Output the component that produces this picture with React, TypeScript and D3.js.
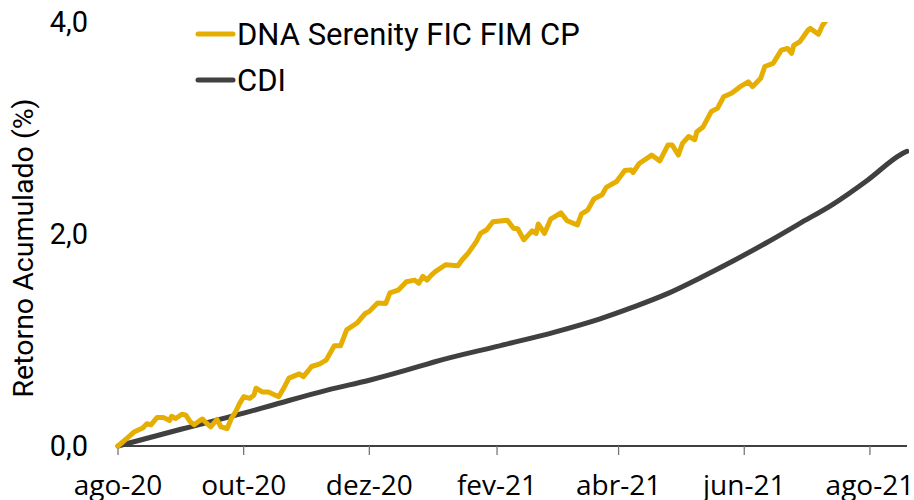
import React from "react";
import * as d3 from "d3";

const fundDates = [
  "2020-08-01","2020-08-07","2020-08-09","2020-08-13","2020-08-15","2020-08-17","2020-08-20","2020-08-23","2020-08-26","2020-08-27",
  "2020-08-29","2020-09-01","2020-09-03","2020-09-05","2020-09-07","2020-09-09","2020-09-11","2020-09-13","2020-09-15","2020-09-18",
  "2020-09-20","2020-09-22","2020-09-23","2020-09-25","2020-09-27","2020-09-29","2020-10-01","2020-10-04","2020-10-06","2020-10-07",
  "2020-10-10","2020-10-13","2020-10-18","2020-10-20","2020-10-23","2020-10-28","2020-10-30","2020-11-03","2020-11-07","2020-11-10",
  "2020-11-14","2020-11-17","2020-11-20","2020-11-25","2020-11-29","2020-12-01","2020-12-05","2020-12-09","2020-12-11","2020-12-15",
  "2020-12-19","2020-12-23","2020-12-25","2020-12-27","2020-12-29","2020-12-31","2021-01-02","2021-01-07","2021-01-13","2021-01-15",
  "2021-01-18","2021-01-22","2021-01-24","2021-01-27","2021-01-30","2021-02-06","2021-02-09","2021-02-11","2021-02-14","2021-02-18",
  "2021-02-20","2021-02-21","2021-02-24","2021-02-27","2021-03-04","2021-03-07","2021-03-12","2021-03-14","2021-03-17","2021-03-20",
  "2021-03-24","2021-03-26","2021-03-31","2021-04-04","2021-04-07","2021-04-08","2021-04-11","2021-04-16","2021-04-17","2021-04-21",
  "2021-04-25","2021-04-27","2021-04-30","2021-05-02","2021-05-05","2021-05-08","2021-05-09","2021-05-12","2021-05-16","2021-05-19",
  "2021-05-22","2021-05-26","2021-05-30","2021-06-03","2021-06-05","2021-06-09","2021-06-11","2021-06-15","2021-06-19","2021-06-22",
  "2021-06-24","2021-06-25","2021-06-28","2021-07-02","2021-07-03","2021-07-07","2021-07-09","2021-07-13"
];
const fundValues = [
  0.00,0.10,0.135,0.17,0.21,0.20,0.27,0.27,0.24,0.28,
  0.26,0.30,0.29,0.23,0.20,0.23,0.255,0.215,0.18,0.25,
  0.18,0.17,0.165,0.26,0.32,0.40,0.465,0.45,0.48,0.545,
  0.51,0.51,0.465,0.53,0.64,0.68,0.655,0.75,0.775,0.81,
  0.945,0.945,1.095,1.16,1.25,1.27,1.35,1.345,1.445,1.47,
  1.55,1.565,1.535,1.60,1.565,1.61,1.645,1.71,1.70,1.755,
  1.82,1.93,2.005,2.04,2.115,2.13,2.055,2.05,1.945,2.03,
  2.005,2.095,2.005,2.14,2.20,2.125,2.085,2.19,2.225,2.33,
  2.37,2.44,2.495,2.60,2.605,2.58,2.665,2.73,2.745,2.69,
  2.84,2.84,2.745,2.855,2.92,2.89,2.965,3.01,3.155,3.185,
  3.295,3.33,3.39,3.435,3.39,3.47,3.58,3.61,3.735,3.75,
  3.705,3.78,3.815,3.925,3.94,3.885,3.97,4.07
];

const cdiDates = [
  "2020-08-01","2020-09-01","2020-10-01","2020-10-14","2020-11-11","2020-12-01","2020-12-26","2021-01-01",
  "2021-02-01","2021-03-01","2021-03-23","2021-04-08","2021-04-25","2021-05-11","2021-05-27","2021-06-12",
  "2021-06-28","2021-07-14","2021-07-31","2021-08-16","2021-08-19"
];
const cdiValues = [
  0.00,0.16,0.31,0.38,0.53,0.62,0.755,0.79,
  0.94,1.075,1.20,1.31,1.44,1.59,1.75,1.92,
  2.10,2.28,2.51,2.75,2.78
];

const yTicks = [0, 2, 4];
const xTickDates = ["2020-08-01","2020-10-01","2020-12-01","2021-02-01","2021-04-01","2021-06-01","2021-08-01"];
const xTickLabels = ["ago-20","out-20","dez-20","fev-21","abr-21","jun-21","ago-21"];
const seriesNames = ["DNA Serenity FIC FIM CP", "CDI"];
const seriesColors = ["#E5AE00", "#404040"];

const W = 914, H = 500;
const M = { left: 118, right: 7, top: 22, bottom: 54 };

export default function App() {
  const parse = d3.utcParse("%Y-%m-%d");
  const x = d3.scaleUtc()
    .domain([parse("2020-08-01")!, parse("2021-08-19")!])
    .range([M.left, W - M.right]);
  const y = d3.scaleLinear().domain([0, 4]).range([H - M.bottom, M.top]);

  const fund = fundDates.map((d, i) => ({ d: parse(d)!, v: fundValues[i] }));
  const cdi = cdiDates.map((d, i) => ({ d: parse(d)!, v: cdiValues[i] }));
  const line = d3.line<{ d: Date; v: number }>().x(p => x(p.d)).y(p => y(p.v));
  const smooth = d3.line<{ d: Date; v: number }>().x(p => x(p.d)).y(p => y(p.v)).curve(d3.curveMonotoneX);

  const fmt = (v: number) => d3.format(".1f")(v).replace(".", ",");
  const y0 = y(0);

  return (
    <svg width={W} height={H} style={{ position: "absolute", left: 0, top: 0, background: "#fff" }}
      fontFamily="Roboto, sans-serif">
      <defs>
        <clipPath id="plot">
          <rect x={M.left - 5} y={M.top} width={W - M.left} height={H - M.top} />
        </clipPath>
      </defs>
      {yTicks.map(t => (
        <text key={t} x={88} y={y(t)} dy="0.36em" textAnchor="end" fontSize={29} fill="#000">{fmt(t)}</text>
      ))}
      <text transform={`translate(33,${(M.top + y0) / 2 + 14}) rotate(-90)`} textAnchor="middle" fontSize={28.5} fill="#000">
        Retorno Acumulado (%)
      </text>
      <line x1={M.left} x2={W - M.right} y1={y0} y2={y0} stroke="#000" strokeWidth={1.3} />
      {xTickDates.map((d, i) => {
        const xx = x(parse(d)!);
        return (
          <g key={d}>
            <line x1={xx} x2={xx} y1={y0} y2={y0 + 9} stroke="#777" strokeWidth={1.3} />
            <text x={xx} y={495} textAnchor="middle" fontSize={28} fontFamily="'Open Sans', sans-serif" fill="#000">
              {xTickLabels[i]}
            </text>
          </g>
        );
      })}
      <g clipPath="url(#plot)">
        <path d={smooth(cdi)!} fill="none" stroke={seriesColors[1]} strokeWidth={5} strokeLinejoin="round" strokeLinecap="round" />
        <path d={line(fund)!} fill="none" stroke={seriesColors[0]} strokeWidth={5} strokeLinejoin="round" strokeLinecap="round" />
      </g>
      {seriesNames.map((n, i) => {
        const ly = 34 + i * 46;
        return (
          <g key={n}>
            <line x1={198} x2={233} y1={ly} y2={ly} stroke={seriesColors[i]} strokeWidth={5} strokeLinecap="round" />
            <text x={237} y={ly} dy="0.36em" fontSize={31} fill="#000">{n}</text>
          </g>
        );
      })}
    </svg>
  );
}
